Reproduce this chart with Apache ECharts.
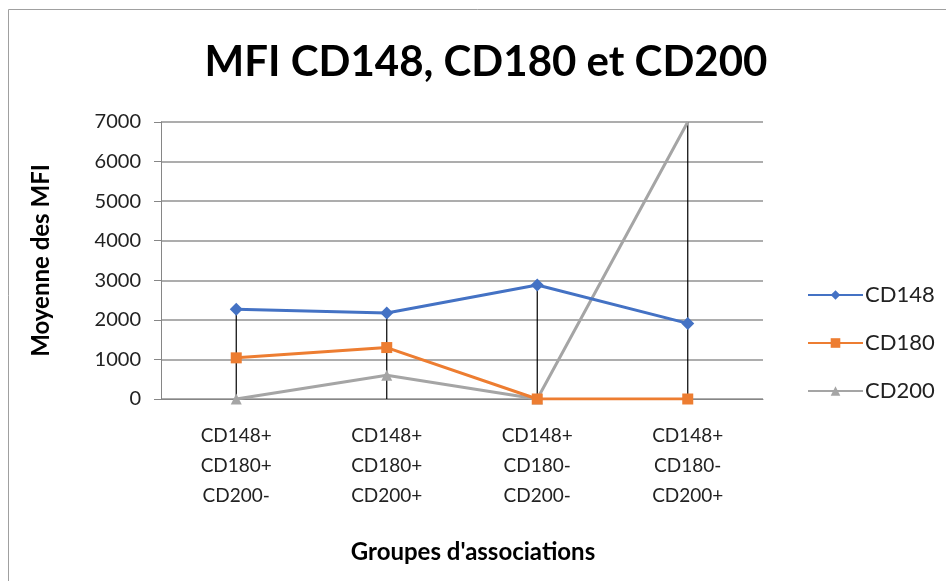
<!DOCTYPE html>
<html><head><meta charset="utf-8">
<script src="https://cdn.jsdelivr.net/npm/echarts@6/dist/echarts.min.js"></script>
<style>html,body{margin:0;padding:0;background:#fff}#c{width:946px;height:581px}</style>
</head><body><div id="c"></div>
<script>
const categories = ["CD148+\nCD180+\nCD200-", "CD148+\nCD180+\nCD200+", "CD148+\nCD180-\nCD200-", "CD148+\nCD180-\nCD200+"];
const cd148 = [2270, 2175, 2880, 1910];
const cd180 = [1040, 1300, 0, 0];
const cd200 = [0, 600, 0, 7000];
const yTicks = [0, 1000, 2000, 3000, 4000, 5000, 6000, 7000];
const yMax = 7000;

const font = 'Lato, "Open Sans", sans-serif';
const chart = echarts.init(document.getElementById('c'), null, {renderer: 'canvas'});

const dropData = categories.map((c, i) => [i, Math.min(yMax, Math.max(cd148[i], cd180[i], cd200[i]))]);
function withClip(arr) {
  return arr.map(v => v >= yMax ? {value: v, symbol: 'none'} : v);
}

chart.setOption({
  animation: false,
  graphic: [{
    type: 'rect', shape: {x: 8.5, y: 9.5, width: 960, height: 600},
    style: {fill: 'none', stroke: '#a0a0a0', lineWidth: 1}, z: -10
  }],
  title: {
    text: 'MFI CD148, CD180 et CD200', left: 481, top: 36, textAlign: 'center',
    textStyle: {fontFamily: font, fontWeight: 'bold', fontSize: 42, color: '#000'}
  },
  legend: {
    orient: 'vertical', left: 802, top: 278, itemGap: 24, itemWidth: 55, itemHeight: 12,
    textStyle: {fontFamily: font, fontSize: 22, lineHeight: 24, color: '#222', padding: [0, 0, 0, -3]},
    data: ['CD148', 'CD180', 'CD200']
  },
  grid: {left: 161, right: 183, top: 122, bottom: 182},
  xAxis: {
    type: 'category', data: categories, boundaryGap: true,
    axisLine: {lineStyle: {color: '#868686', width: 1}},
    axisTick: {show: false},
    axisLabel: {fontFamily: font, fontSize: 19, color: '#222', lineHeight: 30, margin: 22},
    name: "Groupes d'associations", nameLocation: 'middle', nameGap: 141,
    nameTextStyle: {fontFamily: font, fontWeight: 'bold', fontSize: 24, color: '#000', padding: [0, 0, 0, 22]}
  },
  yAxis: {
    type: 'value', min: 0, max: yMax, interval: 1000,
    axisLine: {show: true, lineStyle: {color: '#868686', width: 1}},
    axisTick: {show: true, inside: false, length: 7, lineStyle: {color: '#868686'}},
    splitLine: {lineStyle: {color: '#929292', width: 1.5}},
    axisLabel: {fontFamily: font, fontSize: 20, color: '#222', margin: 20,
      formatter: v => yTicks.includes(v) ? String(v) : ''},
    name: 'Moyenne des MFI', nameLocation: 'middle', nameGap: 108, nameRotate: 90,
    nameTextStyle: {fontFamily: font, fontWeight: 'bold', fontSize: 24, color: '#000'}
  },
  series: [
    {
      type: 'custom', name: 'drop', z: 1, silent: true,
      data: dropData,
      renderItem: (params, api) => {
        const top = api.coord([api.value(0), api.value(1)]);
        const bot = api.coord([api.value(0), 0]);
        return {type: 'line', shape: {x1: top[0], y1: top[1], x2: bot[0], y2: bot[1]},
          style: {stroke: '#000', lineWidth: 1.2}};
      }
    },
    {name: 'CD148', type: 'line', data: cd148, z: 5, symbol: 'diamond', symbolSize: 13,
      lineStyle: {color: '#4472C4', width: 3}, itemStyle: {color: '#4472C4'}},
    {name: 'CD180', type: 'line', data: cd180, z: 4, symbol: 'rect', symbolSize: 11,
      lineStyle: {color: '#ED7D31', width: 3}, itemStyle: {color: '#ED7D31'}},
    {name: 'CD200', type: 'line', data: withClip(cd200), z: 3, symbol: 'triangle', symbolSize: 11,
      lineStyle: {color: '#A5A5A5', width: 3}, itemStyle: {color: '#A5A5A5'}}
  ]
});
</script></body></html>
